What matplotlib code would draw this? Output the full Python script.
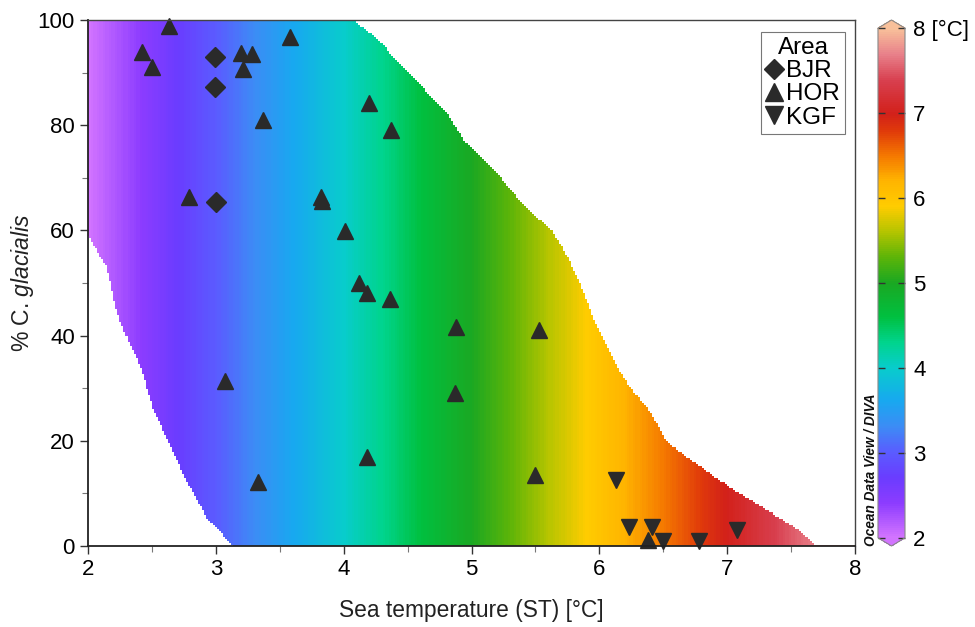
import numpy as np
import matplotlib as mpl
mpl.use('Agg')
import matplotlib.pyplot as plt
from matplotlib.colors import LinearSegmentedColormap, Normalize
from matplotlib.lines import Line2D

plt.rcParams['font.family'] = ['Liberation Sans', 'DejaVu Sans']
plt.rcParams['mathtext.fontset'] = 'custom'
plt.rcParams['mathtext.it'] = 'Liberation Sans:italic'
plt.rcParams['mathtext.rm'] = 'Liberation Sans'

# sample points: sea temperature (degC) vs % C. glacialis
bjr_t = [2.99, 2.99, 3.00]
bjr_p = [93.0, 87.3, 65.4]

hor_t = [2.63, 2.42, 2.50, 3.20, 3.28, 3.21, 3.58, 3.37, 2.79, 3.82, 3.83,
         4.20, 4.37, 4.01, 4.12, 4.18, 4.36, 4.88, 5.53, 4.87, 4.18, 5.50,
         3.07, 3.33, 6.38]
hor_p = [98.9, 94.0, 91.0, 93.7, 93.5, 90.6, 96.7, 81.0, 66.4, 66.4, 65.5,
         84.2, 79.1, 59.9, 50.0, 48.1, 46.9, 41.6, 41.1, 29.1, 16.9, 13.5,
         31.4, 12.2, 1.1]

kgf_t = [6.13, 6.23, 6.41, 6.50, 6.78, 7.08]
kgf_p = [12.5, 3.6, 3.6, 1.0, 1.0, 3.0]

# outline of the DIVA gridded field
upper_t = [2.0, 4.07, 4.21, 4.44, 4.57, 4.70, 4.83, 4.96, 5.09, 5.22, 5.36,
           5.48, 5.62, 5.75, 5.85, 5.95, 6.03, 6.14, 6.26, 6.40, 6.53, 6.79,
           7.05, 7.31, 7.57, 7.70]
upper_p = [100, 100, 97.5, 91.8, 88.6, 84.8, 81.6, 76.6, 73.4, 70.2, 66.3,
           63.3, 60.1, 55.0, 49.8, 43.5, 39.7, 34.0, 29.7, 25.3, 19.6, 15.2,
           10.6, 6.8, 3.0, 0.0]
lower_t = [2.0, 2.02, 2.15, 2.22, 2.31, 2.41, 2.51, 2.62, 2.77, 2.93, 3.13, 8.0]
lower_p = [59.0, 58.2, 53.0, 45.0, 39.2, 34.0, 25.9, 20.2, 12.5, 5.5, 0.0, 0.0]

# ODV style palette
cmap_vals = [2.0, 2.4, 2.7, 3.0, 3.3, 3.6, 4.0, 4.3, 4.6, 5.0, 5.3, 5.6, 5.9,
             6.2, 6.5, 6.8, 7.0, 7.4, 7.7, 8.0]
cmap_cols = ['#d274ff', '#8c3cff', '#6a3cff', '#5a5cff', '#3c8cf5', '#18a8f0',
             '#08cccc', '#00d48c', '#00c040', '#1aa822', '#5cb408', '#b4c400',
             '#ffcc00', '#ffb400', '#f57a00', '#e03a0a', '#d2201a', '#d84050',
             '#e8808a', '#f8c09a']
odv = LinearSegmentedColormap.from_list(
    'odv', [((v - 2) / 6, c) for v, c in zip(cmap_vals, cmap_cols)])
norm = Normalize(2, 8)

fig = plt.figure(figsize=(9.75, 6.27), dpi=100)
ax = fig.add_axes([0.0903, 0.1292, 0.7867, 0.8389])

# gridded field: colour follows temperature, masked outside the outline
xg = np.linspace(2, 8, 380)
yg = np.linspace(0, 100, 260)
X, Y = np.meshgrid(xg, yg)
top = np.interp(X, upper_t, upper_p)
bot = np.interp(X, lower_t, lower_p)
Z = np.ma.masked_where((Y > top) | (Y < bot), X)
ax.pcolormesh(X, Y, Z, cmap=odv, norm=norm, shading='nearest', rasterized=True)

mc = '#2a2a2a'
ax.plot(bjr_t, bjr_p, 'D', color=mc, ms=10, ls='none', clip_on=False)
ax.plot(hor_t, hor_p, '^', color=mc, ms=12, ls='none', clip_on=False)
ax.plot(kgf_t, kgf_p, 'v', color=mc, ms=12, ls='none', clip_on=False)

ax.set_xlim(2, 8)
ax.set_ylim(0, 100)
ax.set_xticks(range(2, 9))
ax.set_xticks(np.arange(2.5, 8, 1), minor=True)
ax.set_yticks(range(0, 101, 20))
ax.set_yticks(range(10, 100, 20), minor=True)
ax.tick_params(labelsize=16, length=6, width=1, color='#333333')
ax.tick_params(which='minor', length=4, width=0.8, color='#777777')
for s in ['left', 'bottom']:
    ax.spines[s].set_color('#222222')
    ax.spines[s].set_linewidth(1.3)
for s in ['top', 'right']:
    ax.spines[s].set_color('#444444')
    ax.spines[s].set_linewidth(1)
ax.set_xlabel('Sea temperature (ST) [°C]', fontsize=16.4, color='#222222')
ax.xaxis.set_label_coords(0.5, -0.1)
ax.set_ylabel(r'% C. $\mathit{glacialis}$', fontsize=16.5, color='#222222')
ax.yaxis.set_label_coords(-0.068, 0.5)

handles = [Line2D([], [], marker=m, color=mc, ls='none', ms=s)
           for m, s in [('D', 10.5), ('^', 12.5), ('v', 12.5)]]
leg = ax.legend(handles, ['BJR', 'HOR', 'KGF'], title='Area', fontsize=17.5,
                title_fontsize=17.5, loc='upper right',
                bbox_to_anchor=(0.987, 0.977), borderaxespad=0,
                handlelength=0.65, handletextpad=0.2, labelspacing=0.05,
                borderpad=0.2, fancybox=False, framealpha=1,
                edgecolor='#777777')
leg.get_frame().set_linewidth(0.8)

cax = fig.add_axes([0.9005, 0.1292, 0.0277, 0.8389])
sm = mpl.cm.ScalarMappable(norm=norm, cmap=odv)
cb = fig.colorbar(sm, cax=cax, extend='both', extendfrac=0.016)
cb.set_ticks(range(2, 9))
cb.set_ticklabels(['2', '3', '4', '5', '6', '7', '8 [°C]'])
cb.outline.set_edgecolor('#888888')
cb.outline.set_linewidth(0.8)
cax.tick_params(direction='in', left=True, right=True, length=5,
                width=1, color='#333333', labelsize=16, pad=6)
cax.yaxis.set_ticks_position('both')
cax.tick_params(labelleft=False, labelright=True)

fig.text(0.8935, 0.1292, 'Ocean Data View / DIVA', rotation=90,
         fontsize=9.8, style='italic', fontweight='bold', color='#111111',
         ha='center', va='bottom')

fig.savefig('out.png', dpi=100)
